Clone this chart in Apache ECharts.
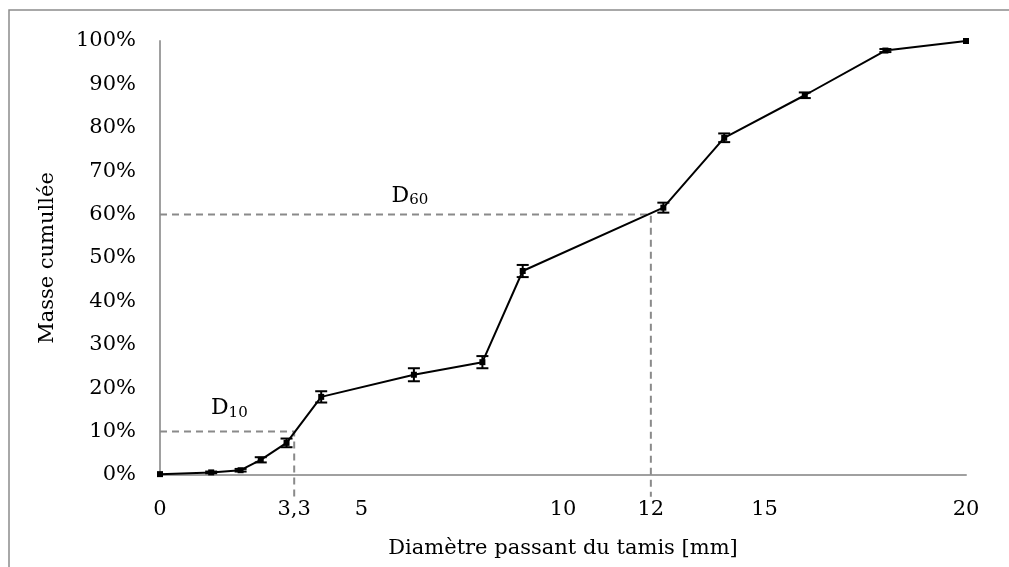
<!DOCTYPE html>
<html>
<head>
<meta charset="utf-8">
<script src="https://cdn.jsdelivr.net/npm/echarts@6/dist/echarts.min.js"></script>
<style>html,body{margin:0;padding:0;background:#fff}#c{width:1009px;height:567px}</style>
</head>
<body>
<div id="c"></div>
<script>
// Data
const diam = [0, 1.27, 2, 2.5, 3.14, 4, 6.3, 8, 9, 12.49, 14, 16, 18, 20];
const masse = [0.2, 0.6, 1.1, 3.5, 7.4, 18.0, 23.1, 26.0, 47.0, 61.6, 77.7, 87.5, 97.8, 100];
const erreur = [0, 0.2, 0.3, 0.6, 1.0, 1.3, 1.5, 1.4, 1.4, 1.15, 1.0, 0.65, 0.35, 0];
const xTickValues = [0, 3.33, 5, 10, 12.18, 15, 20];
const xTickLabels = ['0', '3,3', '5', '10', '12', '15', '20'];
const d10 = { x: 3.33, y: 10, label: '10' };
const d60 = { x: 12.18, y: 60, label: '60' };
const annotations = [[1.72, 15.3, d10.label], [6.2, 64.3, d60.label]];

const FONT = 'DejaVu Serif';
const chart = echarts.init(document.getElementById('c'));

const errData = diam.map((d, i) => [d, masse[i] - erreur[i], masse[i] + erreur[i]]);
const dashStyle = { color: '#8a8a8a', width: 2, type: [7, 5] };

chart.setOption({
  animation: false,
  textStyle: { fontFamily: FONT },
  graphic: [{
    type: 'rect', shape: { x: 9, y: 10, width: 1200, height: 800 },
    style: { fill: 'none', stroke: '#8c8c8c', lineWidth: 1.5 }, silent: true, z: -10
  }],
  grid: { left: 160, right: 43, top: 41, bottom: 92 },
  xAxis: {
    type: 'value', min: 0, max: 20,
    name: 'Diamètre passant du tamis [mm]', nameLocation: 'middle', nameGap: 63,
    nameTextStyle: { fontFamily: FONT, fontSize: 21, color: '#000' },
    axisLine: { lineStyle: { color: '#a0a0a0', width: 2 } },
    axisTick: { show: false },
    splitLine: { show: false },
    axisLabel: {
      customValues: xTickValues, margin: 24,
      fontFamily: FONT, fontSize: 21, color: '#000',
      formatter: v => {
        const i = xTickValues.findIndex(t => Math.abs(t - v) < 1e-6);
        return i >= 0 ? xTickLabels[i] : '';
      }
    }
  },
  yAxis: {
    type: 'value', min: 0, max: 100, interval: 10,
    name: 'Masse cumullée', nameLocation: 'middle', nameGap: 102,
    nameTextStyle: { fontFamily: FONT, fontSize: 21, color: '#000' },
    axisLine: { show: true, lineStyle: { color: '#a0a0a0', width: 2 } },
    axisTick: { show: false },
    splitLine: { show: false },
    axisLabel: { margin: 24, fontFamily: FONT, fontSize: 21, color: '#000', formatter: '{value}%' }
  },
  series: [
    {
      type: 'line', data: [[0, d10.y], [d10.x, d10.y], [d10.x, -5]],
      showSymbol: false, symbol: 'none', clip: false, lineStyle: dashStyle, z: 1, silent: true
    },
    {
      type: 'line', data: [[0, d60.y], [d60.x, d60.y], [d60.x, -5]],
      showSymbol: false, symbol: 'none', clip: false, lineStyle: dashStyle, z: 1, silent: true
    },
    {
      type: 'line', data: diam.map((d, i) => [d, masse[i]]),
      symbol: 'rect', symbolSize: 6, itemStyle: { color: '#000' },
      lineStyle: { color: '#000', width: 2 }, z: 3, clip: false
    },
    {
      type: 'custom', data: errData, z: 4, clip: false,
      renderItem: (params, api) => {
        const x = api.value(0);
        const lo = api.coord([x, api.value(1)]);
        const hi = api.coord([x, api.value(2)]);
        if (Math.abs(hi[1] - lo[1]) < 0.5) return null;
        const w = 6;
        const st = { stroke: '#000', lineWidth: 2 };
        return {
          type: 'group', children: [
            { type: 'line', shape: { x1: lo[0], y1: lo[1], x2: hi[0], y2: hi[1] }, style: st },
            { type: 'line', shape: { x1: lo[0] - w, y1: lo[1], x2: lo[0] + w, y2: lo[1] }, style: st },
            { type: 'line', shape: { x1: hi[0] - w, y1: hi[1], x2: hi[0] + w, y2: hi[1] }, style: st }
          ]
        };
      }
    },
    {
      type: 'custom', data: annotations, z: 5, silent: true, clip: false,
      renderItem: (params, api) => {
        const p = api.coord([api.value(0), api.value(1)]);
        const sub = annotations[params.dataIndex][2];
        return {
          type: 'text', x: p[0], y: p[1],
          style: {
            text: '{d|D}{s|' + sub + '}',
            align: 'center', verticalAlign: 'middle', fill: '#000',
            rich: {
              d: { fontFamily: FONT, fontSize: 22, fill: '#000', color: '#000' },
              s: { fontFamily: FONT, fontSize: 15, fill: '#000', color: '#000', verticalAlign: 'bottom', padding: [9, 0, 0, 0] }
            }
          }
        };
      }
    }
  ]
});
</script>
</body>
</html>
